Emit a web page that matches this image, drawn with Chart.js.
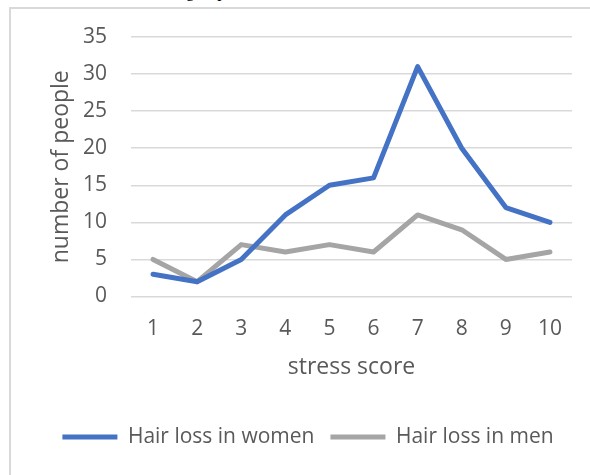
<!DOCTYPE html>
<html>
<head>
<meta charset="utf-8">
<script src="https://cdn.jsdelivr.net/npm/chart.js@4.4.1/dist/chart.umd.min.js"></script>
<style>
  html, body { margin: 0; padding: 0; width: 590px; height: 475px; overflow: hidden; background: #fff; }
  #frame { position: absolute; left: 9px; top: 7px; width: 700px; height: 600px; border: 2px solid #d9d9d9; box-sizing: border-box; }
  #caption { position: absolute; left: 186px; top: -18px; font-family: "Liberation Serif", serif; font-size: 17px; color: #000; white-space: nowrap; }
  #chart { position: absolute; left: 0; top: 0; }
</style>
</head>
<body>
<div id="caption">group,</div>
<div id="frame"></div>
<canvas id="chart" width="616" height="475"></canvas>
<script>
// stress score categories on the x axis
const stressScores = ['1', '2', '3', '4', '5', '6', '7', '8', '9', '10'];
// number of people reporting hair loss at each stress score
const womenCounts = [3, 2, 5, 11, 15, 16, 31, 20, 12, 10];
const menCounts = [5, 2, 7, 6, 7, 6, 11, 9, 5, 6];
// y axis range and step
const yMin = 0;
const yMax = 35;
const yStep = 5;

const textColor = '#595959';
const fontFamily = '"Open Sans", "Noto Sans", sans-serif';

new Chart(document.getElementById('chart'), {
  type: 'line',
  data: {
    labels: stressScores,
    datasets: [
      {
        label: 'Hair loss in women',
        data: womenCounts,
        borderColor: '#4472c4',
        backgroundColor: '#4472c4',
        borderWidth: 5,
        borderCapStyle: 'round',
        borderJoinStyle: 'round',
        pointRadius: 0,
        tension: 0
      },
      {
        label: 'Hair loss in men',
        data: menCounts,
        borderColor: '#a5a5a5',
        backgroundColor: '#a5a5a5',
        borderWidth: 5,
        borderCapStyle: 'round',
        borderJoinStyle: 'round',
        pointRadius: 0,
        tension: 0
      }
    ]
  },
  options: {
    responsive: false,
    animation: false,
    layout: { padding: { top: 37, right: 44, bottom: 17.5, left: 44 } },
    scales: {
      x: {
        offset: true,
        grid: { display: false, drawTicks: false, offset: true },
        border: { display: false },
        ticks: { color: textColor, font: { family: fontFamily, size: 21 }, padding: 20 },
        title: {
          display: true,
          text: 'stress score',
          color: textColor,
          font: { family: fontFamily, size: 23 },
          padding: { top: 0, bottom: 29 }
        },
        afterFit: (scale) => { scale.height = 114; }
      },
      y: {
        min: yMin,
        max: yMax,
        grid: { color: '#d9d9d9', lineWidth: 1.5, drawTicks: false },
        border: { display: false },
        ticks: { stepSize: yStep, color: textColor, font: { family: fontFamily, size: 21 }, padding: 24 },
        title: {
          display: true,
          text: 'number of people',
          color: textColor,
          font: { family: fontFamily, size: 23 },
          padding: { top: 4, bottom: 0 }
        },
        afterFit: (scale) => { scale.width = 87; }
      }
    },
    plugins: {
      tooltip: { enabled: false },
      legend: {
        position: 'bottom',
        labels: {
          usePointStyle: true,
          pointStyle: 'line',
          pointStyleWidth: 55,
          color: textColor,
          font: { family: fontFamily, size: 21 },
          padding: 16
        }
      }
    }
  }
});
</script>
</body>
</html>
